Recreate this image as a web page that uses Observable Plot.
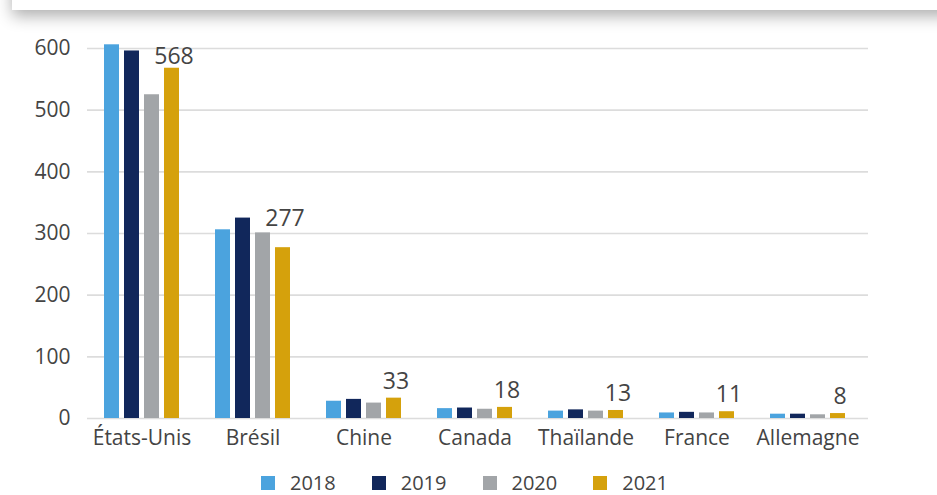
<!DOCTYPE html>
<html>
<head>
<meta charset="utf-8">
<script src="https://cdn.jsdelivr.net/npm/d3@7"></script>
<script src="https://cdn.jsdelivr.net/npm/@observablehq/plot@0.6"></script>
<style>
  html, body { margin: 0; padding: 0; background: #fff; }
  body { width: 937px; height: 495px; overflow: hidden; position: relative; font-family: "Open Sans", sans-serif; }
  #chart { position: absolute; left: 0; top: 0; width: 937px; height: 462px; }
  #chart svg { position: absolute; left: 0; top: 0; max-width: none; }
  #shadow { position: absolute; left: 12px; top: -40px; width: 960px; height: 50px; background: #fff;
            box-shadow: 0 6px 16px rgba(0,0,0,0.32); z-index: 5; pointer-events: none; }
  #legend { position: absolute; left: 0; top: 472px; width: 937px; height: 22px; display: flex; justify-content: center;
            align-items: center; padding-right: 8px; box-sizing: border-box; font-size: 20px; line-height: 22px; color: #444; }
  .item { display: flex; align-items: center; margin: 0 18px; }
  .sw { width: 14px; height: 14px; margin-right: 15px; }
</style>
</head>
<body>
<div id="shadow"></div>
<div id="chart"></div>
<div id="legend"></div>
<script>
const countries = ["États-Unis", "Brésil", "Chine", "Canada", "Thaïlande", "France", "Allemagne"];
const years = ["2018", "2019", "2020", "2021"];
const v2018 = [606, 306, 28, 16, 12, 9, 7];
const v2019 = [596, 325, 31, 17, 14, 10, 7];
const v2020 = [525, 301, 25, 15, 12, 9, 6];
const v2021 = [568, 277, 33, 18, 13, 11, 8];
const yTicks = [0, 100, 200, 300, 400, 500, 600];
const colors = ["#4ba3de", "#11275b", "#a2a5a8", "#d5a10c"];

const series = [v2018, v2019, v2020, v2021];
const rows = countries.flatMap((c, i) => years.map((yr, j) => ({country: c, year: yr, value: series[j][i]})));
const labels = countries.map((c, i) => ({country: c, year: "2021", value: v2021[i]}));

const W = 937, H = 462;
const common = {
  width: W, height: H, marginLeft: 87, marginRight: 69, marginTop: 48, marginBottom: 44,
  style: {fontFamily: "Open Sans, sans-serif", fontSize: "21px", color: "#444", background: "transparent", overflow: "visible"},
  y: {domain: [0, 600], axis: null}
};

function labelMarks() {
  const txt = {fx: "country", x: "year", y: "value", text: d => String(d.value), fontSize: 23, fill: "#444", dx: 2};
  return [
    Plot.text(labels.filter(d => d.country !== "États-Unis" && d.country !== "Brésil"), {...txt, dy: -17}),
    Plot.text(labels.filter(d => d.country === "États-Unis"), {...txt, dy: -12}),
    Plot.text(labels.filter(d => d.country === "Brésil"), {...txt, dy: -29})
  ];
}

function mainPlot(withGrid) {
  return Plot.plot({
    ...common,
    fx: {domain: countries, paddingInner: 0.327, paddingOuter: 0.166, align: 0.43, label: null, axis: "bottom", tickSize: 0, tickPadding: 12},
    x: {domain: years, paddingInner: 0.25, paddingOuter: 0, axis: null},
    color: {domain: years, range: colors},
    marks: [
      ...(withGrid ? [Plot.ruleY(yTicks, {y: d => d, facet: "super", stroke: "#dcdcdc", strokeWidth: 1.6})] : []),
      ...(withGrid ? [Plot.axisY({ticks: yTicks, tickSize: 0, tickPadding: 17, label: null, fill: "#444"})] : []),
      Plot.barY(rows, {fx: "country", x: "year", y: "value", fill: "year"}),
      ...labelMarks()
    ]
  });
}

const chart = document.getElementById("chart");
try {
  chart.appendChild(mainPlot(true));
} catch (e) {
  const bg = Plot.plot({
    ...common,
    x: {domain: [0, 1], axis: null},
    marks: [
      Plot.ruleY(yTicks, {y: d => d, stroke: "#dcdcdc", strokeWidth: 1.6}),
      Plot.axisY({ticks: yTicks, tickSize: 0, tickPadding: 17, label: null, fill: "#444"})
    ]
  });
  chart.appendChild(bg);
  chart.appendChild(mainPlot(false));
}

const legend = document.getElementById("legend");
years.forEach((yr, i) => {
  const item = document.createElement("div");
  item.className = "item";
  const sw = document.createElement("div");
  sw.className = "sw";
  sw.style.background = colors[i];
  const t = document.createElement("span");
  t.textContent = yr;
  item.appendChild(sw);
  item.appendChild(t);
  legend.appendChild(item);
});
</script>
</body>
</html>
